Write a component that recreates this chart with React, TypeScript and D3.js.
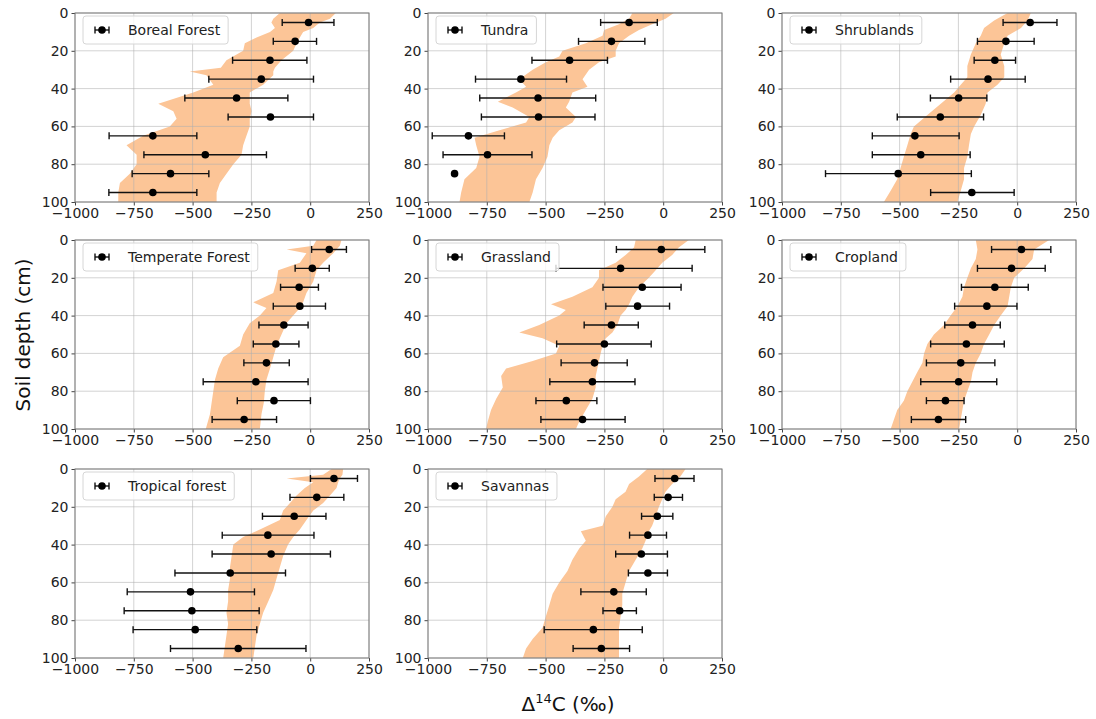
import React, { useEffect, useRef } from 'react';
import * as d3 from 'd3';

// observed profiles (mean and error bar ends) at 5..95 cm, modelled range as band
const biomes = ['Boreal Forest', 'Tundra', 'Shrublands', 'Temperate Forest', 'Grassland', 'Cropland', 'Tropical forest', 'Savannas'];
const obsDepth = [5, 15, 25, 35, 45, 55, 65, 75, 85, 95];
const xTicks = [-1000, -750, -500, -250, 0, 250];
const yTicks = [0, 20, 40, 60, 80, 100];

const obsMean = [
  [-7, -64, -171, -208, -313, -169, -669, -446, -594, -669],
  [-145, -220, -398, -605, -532, -530, -828, -747, -887, null],
  [55, -48, -95, -124, -249, -327, -435, -410, -506, -193],
  [81, 9, -47, -44, -112, -146, -186, -231, -154, -281],
  [-8, -181, -89, -109, -220, -250, -292, -301, -412, -343],
  [18, -24, -95, -129, -190, -216, -240, -249, -305, -335],
  [101, 28, -68, -180, -166, -340, -509, -503, -489, -306],
  [49, 21, -25, -65, -93, -65, -210, -185, -297, -263],
];
const obsLow = [
  [-119, -157, -330, -431, -533, -349, -855, -707, -757, -856],
  [-266, -360, -558, -798, -780, -773, -982, -936, -887, null],
  [-60, -169, -183, -283, -369, -510, -616, -616, -815, -368],
  [6, -64, -126, -157, -218, -242, -282, -455, -310, -417],
  [-199, -456, -256, -244, -336, -453, -434, -482, -541, -520],
  [-109, -169, -237, -266, -308, -368, -386, -410, -386, -450],
  [1, -86, -203, -374, -417, -575, -778, -791, -753, -594],
  [-35, -38, -92, -143, -202, -148, -350, -256, -506, -383],
];
const obsHigh = [
  [101, 27, -14, 14, -95, 14, -482, -186, -431, -482],
  [-25, -78, -237, -411, -287, -290, -675, -558, -887, null],
  [169, 72, -7, 34, -129, -143, -247, -200, -195, -13],
  [154, 81, 35, 65, -9, -48, -89, -9, 1, -143],
  [177, 123, 76, 27, -106, -51, -153, -120, -282, -162],
  [143, 119, 47, -1, -72, -55, -95, -87, -226, -219],
  [201, 143, 67, 16, 86, -105, -237, -217, -227, -18],
  [131, 82, 41, 14, 18, 18, -72, -114, -89, -143],
];

const bandDepth = [
  [0, 3, 5, 8, 10, 13, 16, 20, 25, 29, 31, 33, 38, 42, 48, 52, 56, 60, 65, 70, 75, 80, 85, 90, 95, 100],
  [0, 3, 6, 9, 12, 16, 20, 23, 26, 30, 35, 39, 42, 47, 50, 55, 58, 62, 66, 70, 76, 82, 88, 95, 100],
  [0, 4, 8, 12, 16, 22, 28, 34, 38, 42, 48, 54, 60, 64, 70, 76, 82, 88, 94, 100],
  [0, 3, 5, 7, 12, 16, 22, 28, 33, 36, 40, 44, 50, 56, 62, 68, 74, 80, 86, 92, 100],
  [0, 4, 8, 12, 16, 20, 25, 30, 34, 37, 40, 45, 49, 52, 56, 60, 64, 68, 72, 78, 84, 90, 96, 100],
  [0, 5, 10, 15, 20, 25, 30, 35, 40, 45, 50, 55, 60, 65, 70, 75, 80, 85, 90, 95, 100],
  [0, 3, 5, 7, 10, 14, 18, 22, 27, 32, 36, 40, 46, 52, 58, 64, 70, 76, 82, 88, 94, 100],
  [0, 4, 8, 12, 16, 20, 25, 30, 33, 38, 42, 48, 54, 60, 66, 72, 78, 84, 90, 95, 100],
];
const bandLow = [
  [-129, -157, -165, -150, -171, -228, -278, -285, -356, -380, -512, -441, -412, -497, -646, -582, -568, -597, -710, -781, -738, -738, -767, -809, -816, -816],
  [-131, -145, -188, -251, -258, -329, -428, -442, -499, -555, -612, -583, -626, -703, -640, -569, -583, -696, -802, -795, -781, -795, -845, -859, -866],
  [-41, -98, -141, -155, -176, -197, -212, -212, -240, -268, -325, -382, -439, -453, -467, -482, -496, -510, -538, -567],
  [27, 13, -100, -16, -44, -136, -143, -157, -242, -186, -214, -257, -285, -299, -370, -391, -405, -412, -419, -426, -444],
  [-117, -124, -160, -202, -273, -273, -301, -386, -477, -414, -442, -527, -612, -513, -442, -456, -555, -668, -689, -682, -710, -732, -746, -753],
  [-176, -169, -176, -197, -212, -226, -233, -254, -283, -311, -354, -382, -396, -403, -425, -446, -467, -482, -510, -524, -538],
  [91, 55, -100, 13, -23, -58, -86, -115, -129, -214, -285, -327, -334, -341, -341, -349, -349, -356, -349, -356, -363, -370],
  [-68, -103, -145, -160, -202, -216, -244, -258, -350, -329, -357, -386, -407, -442, -470, -484, -499, -513, -555, -583, -597],
];
const bandHigh = [
  [109, 84, 41, 13, -30, -44, -58, -72, -122, -150, -157, -157, -200, -257, -257, -249, -257, -257, -271, -285, -292, -327, -356, -384, -398, -398],
  [45, 10, -47, -103, -145, -188, -202, -202, -273, -315, -343, -322, -386, -400, -414, -371, -386, -442, -470, -484, -492, -513, -541, -555, -569],
  [58, 44, 16, -41, -55, -70, -55, -55, -84, -126, -134, -155, -183, -197, -205, -212, -226, -226, -240, -254],
  [133, 126, 112, 98, 55, 27, 13, -16, -30, -44, -72, -101, -122, -143, -157, -171, -186, -193, -197, -207, -214],
  [109, 66, 38, -4, -32, -61, -103, -131, -145, -160, -181, -195, -216, -244, -258, -266, -273, -280, -287, -287, -301, -329, -357, -371],
  [136, 72, 65, 30, -13, -27, -34, -41, -70, -98, -119, -141, -155, -176, -190, -197, -212, -226, -233, -240, -247],
  [140, 137, 126, 119, 112, 84, 55, 13, -16, -44, -72, -94, -115, -129, -143, -157, -178, -200, -214, -228, -235, -242],
  [95, 73, 38, 10, -4, -18, -32, -47, -61, -75, -89, -117, -145, -160, -174, -174, -181, -188, -188, -188, -188],
];

const colX = [75, 428, 782];
const rowY = [13, 240, 469];
const W = 294;
const H = 189;
const font = 'DejaVu Sans';

const App = () => {
  const svgRef = useRef<SVGSVGElement>(null);

  useEffect(() => {
    const svg = d3.select(svgRef.current);
    svg.selectAll('*').remove();

    const x = d3.scaleLinear().domain([-1000, 250]).range([0, W]);
    const y = d3.scaleLinear().domain([0, 100]).range([0, H]);

    biomes.forEach((name, i) => {
      const g = svg.append('g')
        .attr('transform', `translate(${colX[i % 3]},${rowY[Math.floor(i / 3)]})`);

      const band = bandDepth[i].map((d, k) => ({ d, lo: bandLow[i][k], hi: bandHigh[i][k] }));
      const area = d3.area<any>()
        .y(d => y(d.d))
        .x0(d => x(d.lo))
        .x1(d => x(d.hi));
      g.append('path').datum(band).attr('d', area).attr('fill', '#fcc597');

      // grid over the band
      g.selectAll('.xgrid').data(xTicks).join('line')
        .attr('x1', d => x(d)).attr('x2', d => x(d))
        .attr('y1', 0).attr('y2', H)
        .attr('stroke', '#b0b0b0').attr('stroke-opacity', 0.7).attr('stroke-width', 0.8);
      g.selectAll('.ygrid').data(yTicks).join('line')
        .attr('x1', 0).attr('x2', W)
        .attr('y1', d => y(d)).attr('y2', d => y(d))
        .attr('stroke', '#b0b0b0').attr('stroke-opacity', 0.7).attr('stroke-width', 0.8);

      const obs = obsDepth.map((d, k) => ({ d, m: obsMean[i][k], lo: obsLow[i][k], hi: obsHigh[i][k] }))
        .filter(o => o.m !== null);

      const eb = g.append('g').attr('stroke', '#111').attr('stroke-width', 1.4);
      obs.forEach(o => {
        if (o.hi === o.lo) return;
        eb.append('line').attr('x1', x(o.lo)).attr('x2', x(o.hi)).attr('y1', y(o.d)).attr('y2', y(o.d));
        eb.append('line').attr('x1', x(o.lo)).attr('x2', x(o.lo)).attr('y1', y(o.d) - 3.5).attr('y2', y(o.d) + 3.5);
        eb.append('line').attr('x1', x(o.hi)).attr('x2', x(o.hi)).attr('y1', y(o.d) - 3.5).attr('y2', y(o.d) + 3.5);
      });
      g.selectAll('.dot').data(obs).join('circle')
        .attr('cx', d => x(d.m)).attr('cy', d => y(d.d)).attr('r', 3.8).attr('fill', '#000');

      // axes
      const xAxis = g.append('g').attr('transform', `translate(0,${H})`)
        .call(d3.axisBottom(x).tickValues(xTicks).tickFormat(d => d3.format('')(d as number).replace('-', '\u2212')).tickSize(3.5).tickPadding(3));
      const yAxis = g.append('g')
        .call(d3.axisLeft(y).tickValues(yTicks).tickSize(3.5).tickPadding(3));
      [xAxis, yAxis].forEach(ax => {
        ax.select('.domain').remove();
        ax.selectAll('line').attr('stroke', '#444');
        ax.selectAll('text').attr('font-family', font).attr('font-size', 14).attr('fill', '#222');
      });

      g.append('rect').attr('width', W).attr('height', H)
        .attr('fill', 'none').attr('stroke', '#7a7a7a').attr('stroke-width', 1);

      // legend
      const lg = g.append('g').attr('transform', 'translate(8,3)');
      const box = lg.append('rect').attr('height', 28).attr('rx', 3)
        .attr('fill', '#fff').attr('fill-opacity', 0.8).attr('stroke', '#d6d6d6');
      lg.append('line').attr('x1', 12).attr('x2', 26).attr('y1', 14).attr('y2', 14).attr('stroke', '#111').attr('stroke-width', 1.4);
      lg.append('line').attr('x1', 12).attr('x2', 12).attr('y1', 10.5).attr('y2', 17.5).attr('stroke', '#111').attr('stroke-width', 1.4);
      lg.append('line').attr('x1', 26).attr('x2', 26).attr('y1', 10.5).attr('y2', 17.5).attr('stroke', '#111').attr('stroke-width', 1.4);
      lg.append('circle').attr('cx', 19).attr('cy', 14).attr('r', 3.8).attr('fill', '#000');
      const t = lg.append('text').attr('x', 45).attr('y', 19).text(name)
        .attr('font-family', font).attr('font-size', 14).attr('fill', '#222');
      const tw = (t.node() as SVGTextElement).getComputedTextLength();
      box.attr('width', 45 + tw + 8);
    });

    svg.append('text')
      .attr('transform', 'translate(30,335) rotate(-90)')
      .attr('text-anchor', 'middle')
      .attr('font-family', font).attr('font-size', 20).attr('fill', '#111')
      .text('Soil depth (cm)');

    const xl = svg.append('text')
      .attr('x', 568).attr('y', 711)
      .attr('text-anchor', 'middle')
      .attr('font-family', font).attr('font-size', 20).attr('fill', '#111');
    xl.append('tspan').text('\u0394');
    xl.append('tspan').attr('font-size', 13).attr('dy', -8).text('14');
    xl.append('tspan').attr('dy', 8).text('C (\u2030)');
  }, []);

  return (
    <svg ref={svgRef} width={1096} height={719}
      style={{ position: 'absolute', left: 0, top: 0, background: '#fff' }} />
  );
};

export default App;
